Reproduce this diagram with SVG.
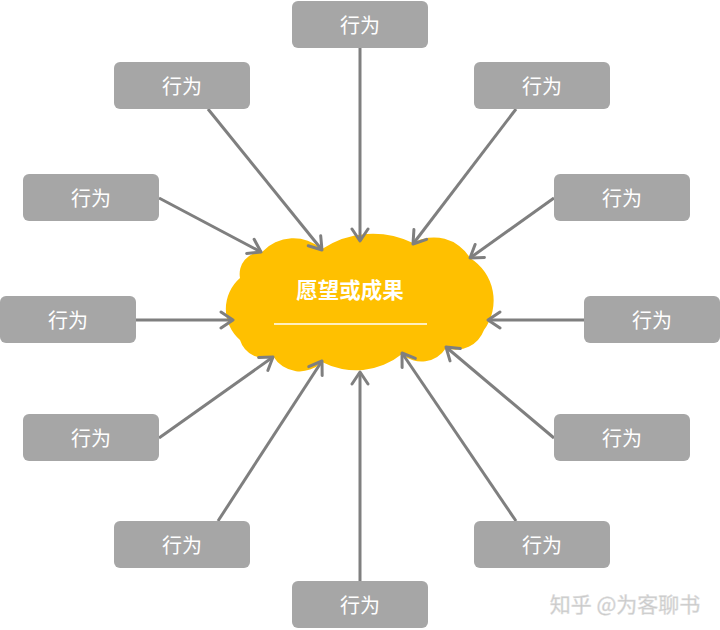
<svg xmlns="http://www.w3.org/2000/svg" width="720" height="630" viewBox="0 0 720 630">
<style>
.box rect{fill:#a6a6a6}
.box text{fill:#ffffff;font-family:"Noto Sans CJK SC","Noto Sans",sans-serif;font-size:20px;text-anchor:middle;dominant-baseline:central}
.conn line{stroke:#7f7f7f;stroke-width:3;marker-end:url(#ah)}
</style>
<defs>
<marker id="ah" markerUnits="userSpaceOnUse" markerWidth="20" markerHeight="20" viewBox="0 0 20 20" refX="17" refY="10" orient="auto">
<path d="M5,2 L17,10 L5,18" fill="none" stroke="#7f7f7f" stroke-width="3" stroke-linecap="round" stroke-linejoin="round"/>
</marker>
</defs>
<rect width="720" height="630" fill="#ffffff"/>
<g id="cloud">
<path d="M240,340 A41 41 0 0 1 240,278 A22 22 0 0 1 262,252 A43 43 0 0 1 322,249 A92 92 0 0 1 413,243 A42 42 0 0 1 470,258 A50 50 0 0 1 484,330 A30 30 0 0 1 446,348 A29 29 0 0 1 402,354 A73 73 0 0 1 322,362 A31 31 0 0 1 273,356 A25 25 0 0 1 240,340 Z" fill="#ffc000"/>
<text x="350" y="288" fill="#ffffff" font-family="Noto Sans CJK SC,Noto Sans,sans-serif" font-size="21.5" font-weight="bold" text-anchor="middle" dominant-baseline="central">愿望或成果</text>
<line x1="274" y1="324" x2="427" y2="324" stroke="#ffffff" stroke-width="1.5"/>
</g>
<g class="conn" id="connectors">
<line x1="360" y1="48" x2="360" y2="241"/>
<line x1="208" y1="109" x2="322" y2="250"/>
<line x1="516" y1="109" x2="413" y2="244"/>
<line x1="159" y1="198" x2="261" y2="252"/>
<line x1="554" y1="198" x2="470" y2="258"/>
<line x1="136" y1="320" x2="233" y2="320"/>
<line x1="584" y1="320" x2="488" y2="320"/>
<line x1="159" y1="438" x2="273" y2="357"/>
<line x1="554" y1="438" x2="446" y2="347"/>
<line x1="218" y1="521" x2="322" y2="361"/>
<line x1="516" y1="521" x2="402" y2="353"/>
<line x1="360" y1="581" x2="360" y2="372"/>
</g>
<g class="box" id="n1"><rect x="292" y="1" width="136" height="47" rx="6"/><text x="360" y="24">行为</text></g>
<g class="box" id="n2"><rect x="114" y="62" width="136" height="47" rx="6"/><text x="182" y="85">行为</text></g>
<g class="box" id="n3"><rect x="474" y="62" width="136" height="47" rx="6"/><text x="542" y="85">行为</text></g>
<g class="box" id="n4"><rect x="23" y="174" width="136" height="47" rx="6"/><text x="91" y="197">行为</text></g>
<g class="box" id="n5"><rect x="554" y="174" width="136" height="47" rx="6"/><text x="622" y="197">行为</text></g>
<g class="box" id="n6"><rect x="0" y="296" width="136" height="47" rx="6"/><text x="68" y="319">行为</text></g>
<g class="box" id="n7"><rect x="584" y="296" width="136" height="47" rx="6"/><text x="652" y="319">行为</text></g>
<g class="box" id="n8"><rect x="23" y="414" width="136" height="47" rx="6"/><text x="91" y="437">行为</text></g>
<g class="box" id="n9"><rect x="554" y="414" width="136" height="47" rx="6"/><text x="622" y="437">行为</text></g>
<g class="box" id="n10"><rect x="114" y="521" width="136" height="47" rx="6"/><text x="182" y="544">行为</text></g>
<g class="box" id="n11"><rect x="474" y="521" width="136" height="47" rx="6"/><text x="542" y="544">行为</text></g>
<g class="box" id="n12"><rect x="292" y="581" width="136" height="47" rx="6"/><text x="360" y="604">行为</text></g>
<text x="625" y="603" fill="#c8c8c8" stroke="#e0e0e0" stroke-width="0.5" font-family="Noto Sans CJK SC,Noto Sans,sans-serif" font-size="21" text-anchor="middle" dominant-baseline="central">知乎 @为客聊书</text>
</svg>
